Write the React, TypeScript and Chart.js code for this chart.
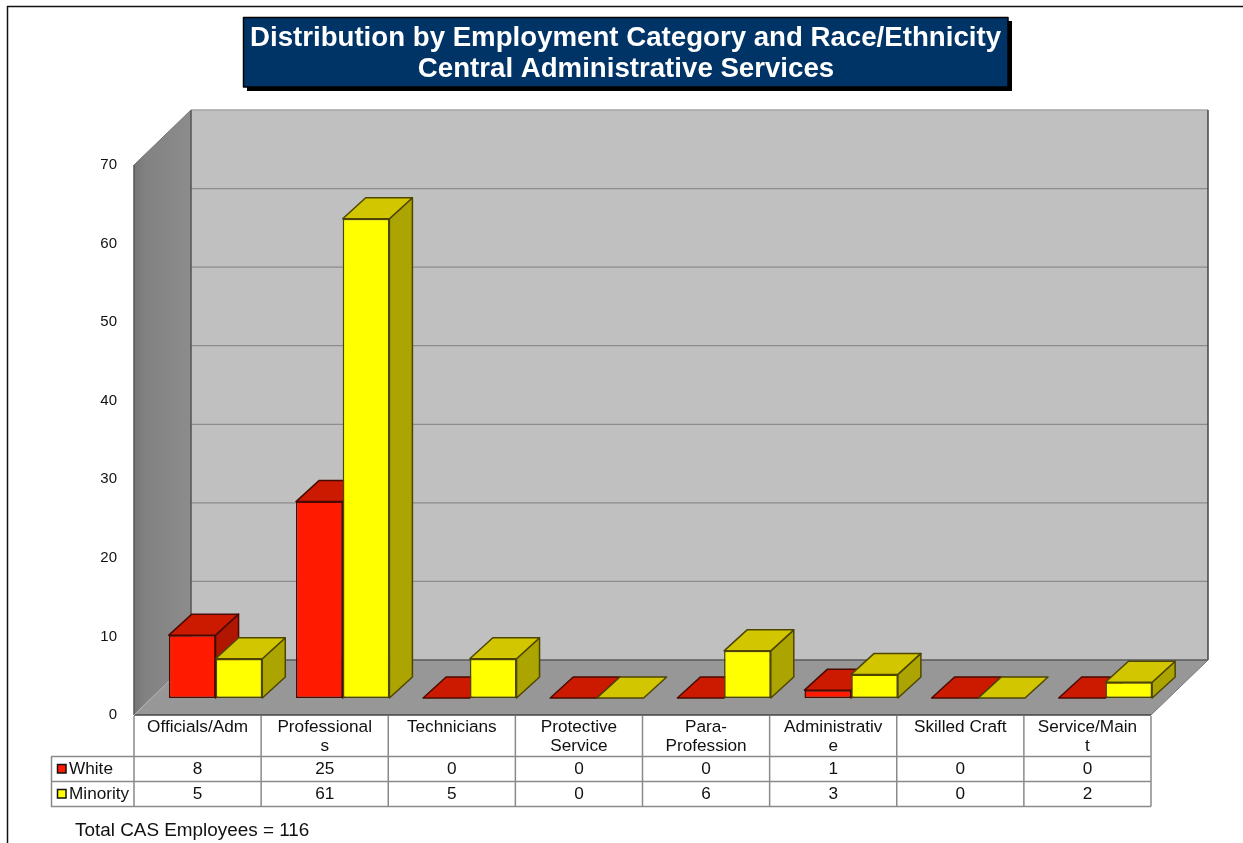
import React, { useEffect, useRef } from "react";
import { Chart, registerables } from "chart.js";

Chart.register(...registerables);

const categories: (string | string[])[] = [
  "Officials/Adm",
  ["Professional", "s"],
  "Technicians",
  ["Protective", "Service"],
  ["Para-", "Profession"],
  ["Administrativ", "e"],
  "Skilled Craft",
  ["Service/Main", "t"],
];
const white = [8, 25, 0, 0, 0, 1, 0, 0];
const minority = [5, 61, 5, 0, 6, 3, 0, 2];
const yTicks = [0, 10, 20, 30, 40, 50, 60, 70];
const titleLines = [
  "Distribution by Employment Category and Race/Ethnicity",
  "Central Administrative Services",
];
const footnote = "Total CAS Employees = 116";

const FONT = '"Liberation Sans", Arial, sans-serif';
const BACK = { dx: 57, dy: -55 };
const SHIFT = { dx: 18, dy: -17 };
const BAR = { dx: 23, dy: 21 };

const face = (ctx: CanvasRenderingContext2D, pts: number[][], fill: any, stroke?: string, lw = 1) => {
  ctx.beginPath();
  pts.forEach(([x, y], i) => (i ? ctx.lineTo(x, y) : ctx.moveTo(x, y)));
  ctx.closePath();
  ctx.fillStyle = fill;
  ctx.fill();
  if (stroke) {
    ctx.strokeStyle = stroke;
    ctx.lineWidth = lw;
    ctx.lineJoin = "round";
    ctx.stroke();
  }
};
const line = (ctx: CanvasRenderingContext2D, x0: number, y0: number, x1: number, y1: number, c: string, lw = 1) => {
  ctx.beginPath();
  ctx.moveTo(x0, y0);
  ctx.lineTo(x1, y1);
  ctx.strokeStyle = c;
  ctx.lineWidth = lw;
  ctx.stroke();
};

const scenePlugin = {
  id: "scene",
  beforeDraw(chart: any) {
    const { ctx, chartArea: a, scales } = chart;
    const { left: l, right: r, top: t, bottom: b } = a;
    const y = scales.y;
    ctx.save();
    ctx.fillStyle = "#fff";
    ctx.fillRect(0, 0, chart.width, chart.height);

    // page frame
    line(ctx, 7, 6.5, chart.width, 6.5, "#111", 1.5);
    line(ctx, 7.5, 6, 7.5, chart.height, "#111", 1.5);

    // back wall
    const bx = BACK.dx, by = BACK.dy;
    face(ctx, [[l + bx, t + by], [r + bx, t + by], [r + bx, b + by], [l + bx, b + by]], "#c0c0c0");
    line(ctx, l + bx, t + by, r + bx, t + by, "#a6a6a6", 1.5);
    yTicks.slice(1, -1).forEach((v) => {
      const py = y.getPixelForValue(v) + by;
      line(ctx, l + bx, py, r + bx, py, "#8c8c8c", 1.2);
    });
    // left wall
    const g = ctx.createLinearGradient(l, 0, l + bx, 0);
    g.addColorStop(0, "#757575");
    g.addColorStop(0.2, "#828282");
    g.addColorStop(1, "#8c8c8c");
    face(ctx, [[l, t], [l + bx, t + by], [l + bx, b + by], [l, b]], g);
    // floor
    face(ctx, [[l, b], [r, b], [r + bx, b + by], [l + bx, b + by]], "#979797");

    line(ctx, l + bx, t + by, l + bx, b + by, "#555", 1.5);
    line(ctx, r + bx, t + by, r + bx, b + by, "#444", 1.5);
    line(ctx, l + bx, b + by, r + bx, b + by, "#5a5a5a", 1.5);
    line(ctx, l, t, l, b, "#555", 1.5);
    line(ctx, l, t, l + bx, t + by, "#777", 1);
    line(ctx, l, b, r, b, "#444", 1.5);
    line(ctx, r, b, r + bx, b + by, "#777", 1);
    line(ctx, l, b, l + bx, b + by, "#b0b0b0", 1);

    // title banner
    face(ctx, [[247, 21], [1012, 21], [1012, 91], [247, 91]], "#000");
    face(ctx, [[243.5, 17.5], [1008, 17.5], [1008, 87], [243.5, 87]], "#003366", "#000", 1.5);
    ctx.fillStyle = "#fff";
    ctx.textAlign = "center";
    ctx.textBaseline = "middle";
    ctx.font = `bold 27.65px ${FONT}`;
    ctx.fillText(titleLines[0], 625.5, 38.5);
    ctx.fillText(titleLines[1], 626, 69.5);
    ctx.restore();
  },
  beforeDatasetsDraw(chart: any) {
    const { ctx } = chart;
    ctx.save();
    ctx.translate(SHIFT.dx, SHIFT.dy);
    // depth faces: white first, so minority's top overlaps white's side
    const looks = [
      { top: "#cc1a00", side: "#b01600", edge: "#4a0a00" },
      { top: "#d2c600", side: "#aca400", edge: "#4e4600" },
    ];
    [0, 1].forEach((d) => {
      const c = looks[d];
      chart.getDatasetMeta(d).data.forEach((el: any) => {
        const x0 = el.x - el.width / 2;
        const x1 = el.x + el.width / 2;
        const top = el.y;
        const base = el.base;
        if (base > top + 0.5) {
          face(ctx, [[x1, top], [x1 + BAR.dx, top - BAR.dy], [x1 + BAR.dx, base - BAR.dy], [x1, base]], c.side, c.edge, 1.5);
        }
        face(ctx, [[x0, top], [x1, top], [x1 + BAR.dx, top - BAR.dy], [x0 + BAR.dx, top - BAR.dy]], c.top, c.edge, 1.5);
      });
    });
  },
  afterDatasetsDraw(chart: any) {
    chart.ctx.restore();
  },
  afterDraw(chart: any) {
    const { ctx, chartArea: a, scales } = chart;
    const x = scales.x;
    const rows = [756.5, 781.5, 806.5];
    const cw = (a.right - a.left) / categories.length;
    const grey = "#8a8a8a";
    ctx.save();
    rows.forEach((ry) => line(ctx, 51, ry, a.right, ry, grey, 1.5));
    for (let i = 0; i <= categories.length; i++) {
      const cx = a.left + cw * i;
      line(ctx, cx, a.bottom + 1, cx, rows[2], grey, 1.5);
    }
    line(ctx, 51.5, rows[0], 51.5, rows[2], grey, 1.5);

    const series = [
      { name: "White", values: white, color: "#ff1a00" },
      { name: "Minority", values: minority, color: "#ffff00" },
    ];
    ctx.font = `17.2px ${FONT}`;
    ctx.textBaseline = "middle";
    series.forEach((s, r) => {
      const cy = rows[r] + 12.5;
      ctx.fillStyle = s.color;
      ctx.strokeStyle = "#111";
      ctx.lineWidth = 1.5;
      ctx.fillRect(57.5, cy - 4.5, 8.5, 8.5);
      ctx.strokeRect(57.5, cy - 4.5, 8.5, 8.5);
      ctx.fillStyle = "#111";
      ctx.textAlign = "left";
      ctx.fillText(s.name, 69, cy);
      ctx.textAlign = "center";
      s.values.forEach((v, i) => ctx.fillText(String(v), x.getPixelForTick(i), cy));
    });
    ctx.textAlign = "left";
    ctx.font = `18.9px ${FONT}`;
    ctx.fillText(footnote, 75, 831);
    ctx.restore();
  },
};

export default function App() {
  const ref = useRef<HTMLCanvasElement>(null);
  useEffect(() => {
    document.body.style.margin = "0";
    const chart = new Chart(ref.current!, {
      type: "bar",
      data: {
        labels: categories as any,
        datasets: [
          {
            label: "White",
            data: white,
            backgroundColor: "#ff1a00",
            borderColor: "#4a0a00",
            borderWidth: 1.5,
            borderSkipped: false,
            clip: false,
          } as any,
          {
            label: "Minority",
            data: minority,
            backgroundColor: "#ffff00",
            borderColor: "#4e4600",
            borderWidth: 1.5,
            borderSkipped: false,
            clip: false,
          } as any,
        ],
      },
      options: {
        responsive: false,
        animation: false,
        devicePixelRatio: 1,
        layout: { padding: { left: 74, right: 92, top: 165, bottom: 88 } },
        plugins: { legend: { display: false }, title: { display: false }, tooltip: { enabled: false } },
        datasets: { bar: { categoryPercentage: 0.735, barPercentage: 1 } },
        scales: {
          x: {
            grid: { display: false, drawTicks: false },
            border: { display: false },
            afterFit: (s: any) => {
              s.height = 40;
            },
            ticks: {
              color: "#111",
              autoSkip: false,
              maxRotation: 0,
              minRotation: 0,
              padding: 3,
              font: { family: FONT, size: 17.2, lineHeight: 1.11 },
            },
          },
          y: {
            min: 0,
            max: 70,
            grid: { display: false, drawTicks: false },
            border: { display: false },
            afterFit: (s: any) => {
              s.width = 60;
            },
            afterBuildTicks: (s: any) => {
              s.ticks = yTicks.map((v) => ({ value: v }));
            },
            ticks: {
              color: "#111",
              padding: 17,
              font: { family: FONT, size: 15 },
            },
          },
        },
      } as any,
      plugins: [scenePlugin as any],
    });
    return () => chart.destroy();
  }, []);
  return <canvas ref={ref} width={1243} height={843} style={{ display: "block" }} />;
}
